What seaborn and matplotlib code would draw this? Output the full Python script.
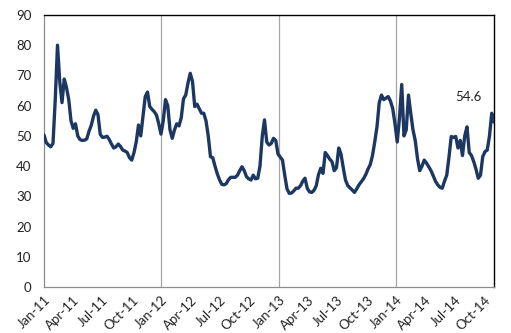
import numpy as np
import pandas as pd
import matplotlib
matplotlib.use("Agg")
import matplotlib.pyplot as plt
import matplotlib.dates as mdates
import seaborn as sns

# Weekly index level, Jan 2011 - Nov 2014
start_date = "2011-01-01"
values = [
    50.3, 47.8, 47.0, 46.4, 47.5, 62.0, 80.0, 68.0, 61.0, 68.8,
    66.0, 62.0, 55.0, 52.5, 54.0, 50.0, 48.8, 48.5, 48.6, 49.0,
    51.5, 53.5, 56.5, 58.5, 57.0, 50.5, 49.5, 49.6, 49.9, 48.8,
    47.3, 46.0, 46.4, 47.3, 46.5, 45.3, 45.0, 44.5, 42.8, 42.0,
    44.5, 48.0, 53.6, 50.0, 56.5, 63.0, 64.5, 59.7, 58.8, 58.0,
    56.9, 54.0, 50.6, 55.0, 62.0, 60.0, 52.0, 49.2, 52.0, 54.0,
    53.3, 56.0, 62.3, 63.5, 67.5, 70.7, 68.0, 59.7, 60.5, 59.0,
    57.5, 57.5, 55.0, 50.0, 43.1, 42.8, 40.0, 37.5, 35.5, 34.0,
    33.8, 34.2, 35.5, 36.3, 36.3, 36.3, 37.0, 38.5, 39.8, 38.5,
    36.5, 35.8, 35.4, 37.0, 35.8, 36.0, 40.0, 49.8, 55.3, 48.0,
    47.0, 47.5, 49.2, 48.5, 44.0, 43.0, 42.0, 37.0, 32.5, 31.0,
    31.1, 31.8, 32.7, 32.7, 33.5, 35.0, 36.0, 32.7, 31.5, 31.3,
    32.0, 33.5, 37.2, 39.3, 37.6, 44.5, 43.5, 42.3, 41.5, 38.5,
    39.5, 46.0, 44.0, 39.5, 35.4, 33.6, 32.8, 32.1, 31.3, 32.5,
    33.8, 34.8, 35.8, 37.2, 39.0, 40.5, 43.5, 48.0, 53.0, 61.0,
    63.5, 62.0, 62.5, 63.0, 61.5, 59.0, 54.0, 48.0, 56.0, 67.0,
    50.0, 52.0, 63.5, 57.5, 52.0, 48.5, 42.5, 38.5, 40.0, 42.0,
    41.0, 39.8, 38.5, 36.8, 35.0, 33.8, 33.0, 32.7, 35.0, 37.0,
    43.0, 49.8, 49.5, 49.8, 46.0, 48.5, 43.5, 50.0, 53.0, 44.5,
    43.5, 41.5, 39.0, 36.0, 37.0, 43.1, 44.8, 45.3, 50.0, 57.5,
    54.6,
]
last_label = "54.6"
y_ticks = [0, 10, 20, 30, 40, 50, 60, 70, 80, 90]
year_lines = ["2012-01-01", "2013-01-01", "2014-01-01"]

dates = pd.date_range(start_date, periods=len(values), freq="7D")
df = pd.DataFrame({"date": dates, "value": values})

sns.set_style("white")
plt.rcParams["font.family"] = ["Lato", "DejaVu Sans"]

fig = plt.figure(figsize=(5.11, 3.33), dpi=100)
ax = fig.add_axes([0.0861, 0.138, 0.8806, 0.817])

# year separators behind the series
for d in year_lines:
    ax.axvline(pd.Timestamp(d), color="#a6a6a6", linewidth=0.9, zorder=1)

sns.lineplot(data=df, x="date", y="value", ax=ax, color="#1c3761",
             linewidth=2.4, solid_joinstyle="round", zorder=3)

ax.set_xlim(dates[0], dates[-1])
ax.set_ylim(0, 90)
ax.set_yticks(y_ticks)
ax.set_xlabel("")
ax.set_ylabel("")

ax.xaxis.set_major_locator(mdates.MonthLocator(bymonth=[1, 4, 7, 10]))
ax.xaxis.set_major_formatter(mdates.DateFormatter("%b-%y"))
ax.grid(False)

ax.tick_params(axis="both", which="both", length=0, colors="#222222",
               labelsize=9.5)
ax.tick_params(axis="y", pad=9)
ax.tick_params(axis="x", pad=5)
for lbl in ax.get_xticklabels():
    lbl.set_rotation(45)
    lbl.set_ha("right")
    lbl.set_rotation_mode("anchor")

for side in ("left", "bottom"):
    ax.spines[side].set_color("#8c8c8c")
    ax.spines[side].set_linewidth(0.9)
for side in ("top", "right"):
    ax.spines[side].set_color("black")
    ax.spines[side].set_linewidth(1.0)

ax.text(pd.Timestamp("2014-08-15"), 63, last_label, ha="center",
        va="center", fontsize=9.5, color="#222222")

fig.savefig("out.png", dpi=100, facecolor="white")
